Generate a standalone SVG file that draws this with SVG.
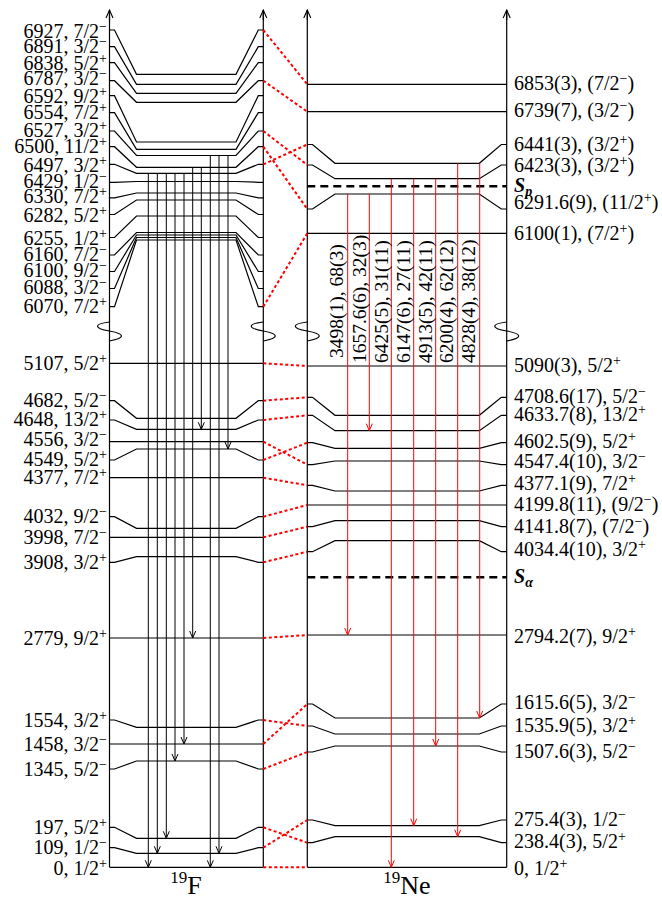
<svg xmlns="http://www.w3.org/2000/svg" width="662" height="900" viewBox="0 0 662 900">
<defs>
<marker id="ah" markerUnits="userSpaceOnUse" orient="auto" refX="0" refY="0" markerWidth="10" markerHeight="10" overflow="visible"><path d="M-7,-3 L0,0 L-7,3" fill="none" stroke="#000" stroke-width="1"/></marker>
<marker id="ahr" markerUnits="userSpaceOnUse" orient="auto" refX="0" refY="0" markerWidth="10" markerHeight="10" overflow="visible"><path d="M-7,-3 L0,0 L-7,3" fill="none" stroke="#f00" stroke-width="1"/></marker>
<marker id="aa" markerUnits="userSpaceOnUse" orient="auto" refX="0" refY="0" markerWidth="10" markerHeight="10" overflow="visible"><path d="M-8,-3.5 L0,0 L-8,3.5" fill="none" stroke="#000" stroke-width="1.1"/></marker>
<style>
.lv{stroke:#000;stroke-width:1.2;fill:none}
.ax{stroke:#000;stroke-width:1.2;fill:none}
.tr{stroke:#000;stroke-width:1;marker-end:url(#ah)}
.rt{stroke:#f00;stroke-width:1;marker-end:url(#ahr)}
.cn{stroke:#f00;stroke-width:2;stroke-dasharray:3 2.5;fill:none}
.sep{stroke:#000;stroke-width:2.5;stroke-dasharray:8 5}
text{font-family:"Liberation Serif","Times New Roman",serif;font-size:20px;fill:#000}
.l{text-anchor:end}
.s{font-size:14px}
.vl{font-size:19.5px}
.big{font-size:26px}
.bs{font-size:17px}
.sym{font-weight:bold;font-style:italic}
</style>
</defs>

<g id="axes">
<path class="ax" d="M109.5,867.3 V322 M109.5,341 V10" />
<path class="ax" d="M263.3,867.3 V322 M263.3,341 V10" />
<path class="ax" d="M307.3,867.3 V322 M307.3,341 V10" />
<path class="ax" d="M506.7,867.3 V322 M506.7,341 V10" />
<line class="ax" x1="109.5" y1="20" x2="109.5" y2="10" marker-end="url(#aa)"/>
<line class="ax" x1="263.3" y1="20" x2="263.3" y2="10" marker-end="url(#aa)"/>
<line class="ax" x1="307.3" y1="20" x2="307.3" y2="10" marker-end="url(#aa)"/>
<line class="ax" x1="506.7" y1="20" x2="506.7" y2="10" marker-end="url(#aa)"/>
<path class="ax" d="M109.5,322 C93.5,324 93.5,328 109.5,331 C125.5,334 125.5,338 109.5,341"/>
<path class="ax" d="M263.3,322 C247.3,324 247.3,328 263.3,331 C279.3,334 279.3,338 263.3,341"/>
<path class="ax" d="M307.3,322 C291.3,324 291.3,328 307.3,331 C323.3,334 323.3,338 307.3,341"/>
<path class="ax" d="M506.7,322 C490.7,324 490.7,328 506.7,331 C522.7,334 522.7,338 506.7,341"/>
</g>

<g id="F19">
<g id="f6927"><path class="lv" d="M109.5,30 H114.5 L136.5,74.3 H236 L258.3,30 H263.3"/><text class="l" x="107" y="37.5">6927, 7/2<tspan class="s" dy="-7">−</tspan></text></g>
<g id="f6891"><path class="lv" d="M109.5,46.7 H114.5 L136.5,84.3 H236 L258.3,46.7 H263.3"/><text class="l" x="107" y="53.3">6891, 3/2<tspan class="s" dy="-7">−</tspan></text></g>
<g id="f6838"><path class="lv" d="M109.5,62.7 H114.5 L136.5,93.3 H236 L258.3,62.7 H263.3"/><text class="l" x="107" y="70">6838, 5/2<tspan class="s" dy="-7">+</tspan></text></g>
<g id="f6787"><path class="lv" d="M109.5,80.7 H114.5 L136.5,102.3 H236 L258.3,80.7 H263.3"/><text class="l" x="107" y="85">6787, 3/2<tspan class="s" dy="-7">−</tspan></text></g>
<g id="f6592"><path class="lv" d="M109.5,95.7 H114.5 L136.5,142 H236 L258.3,95.7 H263.3"/><text class="l" x="107" y="103.3">6592, 9/2<tspan class="s" dy="-7">+</tspan></text></g>
<g id="f6554"><path class="lv" d="M109.5,112.7 H114.5 L136.5,149.3 H236 L258.3,112.7 H263.3"/><text class="l" x="107" y="119.3">6554, 7/2<tspan class="s" dy="-7">+</tspan></text></g>
<g id="f6527"><path class="lv" d="M109.5,131 H114.5 L136.5,155.5 H236 L258.3,131 H263.3"/><text class="l" x="107" y="137.3">6527, 3/2<tspan class="s" dy="-7">+</tspan></text></g>
<g id="f6500"><path class="lv" d="M109.5,146.7 H114.5 L136.5,167.3 H236 L258.3,146.7 H263.3"/><text class="l" x="107" y="153.3">6500, 11/2<tspan class="s" dy="-7">+</tspan></text></g>
<g id="f6497"><path class="lv" d="M109.5,164.3 H114.5 L136.5,173.3 H236 L258.3,164.3 H263.3"/><text class="l" x="107" y="171.7">6497, 3/2<tspan class="s" dy="-7">+</tspan></text></g>
<g id="f6429"><path class="lv" d="M109.5,182.3 H114.5 L136.5,181.5 H236 L258.3,182.3 H263.3"/><text class="l" x="107" y="188.3">6429, 1/2<tspan class="s" dy="-7">−</tspan></text></g>
<g id="f6330"><path class="lv" d="M109.5,197.8 H114.5 L136.5,193 H236 L258.3,197.8 H263.3"/><text class="l" x="107" y="203.3">6330, 7/2<tspan class="s" dy="-7">+</tspan></text></g>
<g id="f6282"><path class="lv" d="M109.5,214.5 H114.5 L136.5,200 H236 L258.3,214.5 H263.3"/><text class="l" x="107" y="221.7">6282, 5/2<tspan class="s" dy="-7">+</tspan></text></g>
<g id="f6255"><path class="lv" d="M109.5,237.5 H114.5 L136.5,216 H236 L258.3,237.5 H263.3"/><text class="l" x="107" y="245">6255, 1/2<tspan class="s" dy="-7">+</tspan></text></g>
<g id="f6160"><path class="lv" d="M109.5,255 H114.5 L136.5,232.5 H236 L258.3,255 H263.3"/><text class="l" x="107" y="260.7">6160, 7/2<tspan class="s" dy="-7">−</tspan></text></g>
<g id="f6100"><path class="lv" d="M109.5,271.5 H114.5 L136.5,235 H236 L258.3,271.5 H263.3"/><text class="l" x="107" y="276.7">6100, 9/2<tspan class="s" dy="-7">−</tspan></text></g>
<g id="f6088"><path class="lv" d="M109.5,288.5 H114.5 L136.5,237.5 H236 L258.3,288.5 H263.3"/><text class="l" x="107" y="294">6088, 3/2<tspan class="s" dy="-7">−</tspan></text></g>
<g id="f6070"><path class="lv" d="M109.5,306.7 H114.5 L136.5,240 H236 L258.3,306.7 H263.3"/><text class="l" x="107" y="312.7">6070, 7/2<tspan class="s" dy="-7">+</tspan></text></g>
<g id="f5107"><path class="lv" d="M109.5,363.3 H263.3"/><text class="l" x="107" y="370">5107, 5/2<tspan class="s" dy="-7">+</tspan></text></g>
<g id="f4682"><path class="lv" d="M109.5,400.7 H114.5 L136.5,418.3 H236 L258.3,400.7 H263.3"/><text class="l" x="107" y="406.7">4682, 5/2<tspan class="s" dy="-7">−</tspan></text></g>
<g id="f4648"><path class="lv" d="M109.5,420 H114.5 L136.5,429.3 H236 L258.3,420 H263.3"/><text class="l" x="107" y="426">4648, 13/2<tspan class="s" dy="-7">+</tspan></text></g>
<g id="f4556"><path class="lv" d="M109.5,441.7 H263.3"/><text class="l" x="107" y="446">4556, 3/2<tspan class="s" dy="-7">−</tspan></text></g>
<g id="f4549"><path class="lv" d="M109.5,460 H114.5 L136.5,449 H236 L258.3,460 H263.3"/><text class="l" x="107" y="466">4549, 5/2<tspan class="s" dy="-7">+</tspan></text></g>
<g id="f4377"><path class="lv" d="M109.5,477.7 H263.3"/><text class="l" x="107" y="484">4377, 7/2<tspan class="s" dy="-7">+</tspan></text></g>
<g id="f4032"><path class="lv" d="M109.5,516.7 H114.5 L136.5,528.3 H236 L258.3,516.7 H263.3"/><text class="l" x="107" y="522.7">4032, 9/2<tspan class="s" dy="-7">−</tspan></text></g>
<g id="f3998"><path class="lv" d="M109.5,537.3 H263.3"/><text class="l" x="107" y="544">3998, 7/2<tspan class="s" dy="-7">−</tspan></text></g>
<g id="f3908"><path class="lv" d="M109.5,562.3 H114.5 L136.5,556.7 H236 L258.3,562.3 H263.3"/><text class="l" x="107" y="569.3">3908, 3/2<tspan class="s" dy="-7">+</tspan></text></g>
<g id="f2779"><path class="lv" d="M109.5,638 H263.3"/><text class="l" x="107" y="645">2779, 9/2<tspan class="s" dy="-7">+</tspan></text></g>
<g id="f1554"><path class="lv" d="M109.5,720 H114.5 L136.5,727.3 H236 L258.3,720 H263.3"/><text class="l" x="107" y="727.3">1554, 3/2<tspan class="s" dy="-7">+</tspan></text></g>
<g id="f1458"><path class="lv" d="M109.5,744 H263.3"/><text class="l" x="107" y="750.7">1458, 3/2<tspan class="s" dy="-7">−</tspan></text></g>
<g id="f1345"><path class="lv" d="M109.5,769 H114.5 L136.5,761 H236 L258.3,769 H263.3"/><text class="l" x="107" y="775.7">1345, 5/2<tspan class="s" dy="-7">−</tspan></text></g>
<g id="f197"><path class="lv" d="M109.5,827.3 H114.5 L136.5,838.3 H236 L258.3,827.3 H263.3"/><text class="l" x="107" y="834">197, 5/2<tspan class="s" dy="-7">+</tspan></text></g>
<g id="f109"><path class="lv" d="M109.5,847.7 H114.5 L136.5,853.3 H236 L258.3,847.7 H263.3"/><text class="l" x="107" y="854">109, 1/2<tspan class="s" dy="-7">−</tspan></text></g>
<g id="f0"><path class="lv" d="M109.5,867.3 H263.3"/><text class="l" x="107" y="875">0, 1/2<tspan class="s" dy="-7">+</tspan></text></g>
<text x="186" y="894" class="big" text-anchor="middle"><tspan class="bs" dy="-11">19</tspan><tspan dy="11">F</tspan></text>
</g>

<g id="Ne19">
<g id="n6853"><path class="lv" d="M307.3,84.3 H506.7"/><text x="514" y="90">6853(3), (7/2<tspan class="s" dy="-7">−</tspan><tspan dy="7">)</tspan></text></g>
<g id="n6739"><path class="lv" d="M307.3,111.7 H506.7"/><text x="514" y="117">6739(7), (3/2<tspan class="s" dy="-7">−</tspan><tspan dy="7">)</tspan></text></g>
<g id="n6441"><path class="lv" d="M307.3,144.5 H312.5 L335,163.3 H479.3 L501.3,144.5 H506.7"/><text x="514" y="150.7">6441(3), (3/2<tspan class="s" dy="-7">+</tspan><tspan dy="7">)</tspan></text></g>
<g id="n6423"><path class="lv" d="M307.3,165 H312.5 L335,178.7 H479.3 L501.3,165 H506.7"/><text x="514" y="171.7">6423(3), (3/2<tspan class="s" dy="-7">+</tspan><tspan dy="7">)</tspan></text></g>
<g id="nSp"><line class="sep" x1="307.3" y1="186.3" x2="506.7" y2="186.3"/><text x="514" y="191.5" class="sym">S<tspan class="s" dy="4">p</tspan></text></g>
<g id="n6291"><path class="lv" d="M307.3,209 H312.5 L335,194 H479.3 L501.3,209 H506.7"/><text x="514" y="209">6291.6(9), (11/2<tspan class="s" dy="-7">+</tspan><tspan dy="7">)</tspan></text></g>
<g id="n6100"><path class="lv" d="M307.3,233.3 H506.7"/><text x="514" y="240">6100(1), (7/2<tspan class="s" dy="-7">+</tspan><tspan dy="7">)</tspan></text></g>
<g id="n5090"><path class="lv" d="M307.3,366 H506.7"/><text x="514" y="371.7">5090(3), 5/2<tspan class="s" dy="-7">+</tspan></text></g>
<g id="n4708"><path class="lv" d="M307.3,397.3 H312.5 L335,415.3 H479.3 L501.3,397.3 H506.7"/><text x="514" y="403.3">4708.6(17), 5/2<tspan class="s" dy="-7">−</tspan></text></g>
<g id="n4633"><path class="lv" d="M307.3,415.3 H312.5 L335,430.7 H479.3 L501.3,415.3 H506.7"/><text x="514" y="421">4633.7(8), 13/2<tspan class="s" dy="-7">+</tspan></text></g>
<g id="n4602"><path class="lv" d="M307.3,442.7 H312.5 L335,448.3 H479.3 L501.3,442.7 H506.7"/><text x="514" y="448.3">4602.5(9), 5/2<tspan class="s" dy="-7">+</tspan></text></g>
<g id="n4547"><path class="lv" d="M307.3,464.7 H312.5 L335,461 H479.3 L501.3,464.7 H506.7"/><text x="514" y="468.3">4547.4(10), 3/2<tspan class="s" dy="-7">−</tspan></text></g>
<g id="n4377"><path class="lv" d="M307.3,485.3 H312.5 L335,491 H479.3 L501.3,485.3 H506.7"/><text x="514" y="490">4377.1(9), 7/2<tspan class="s" dy="-7">+</tspan></text></g>
<g id="n4199"><path class="lv" d="M307.3,505 H506.7"/><text x="514" y="510.7">4199.8(11), (9/2<tspan class="s" dy="-7">−</tspan><tspan dy="7">)</tspan></text></g>
<g id="n4141"><path class="lv" d="M307.3,526.7 H312.5 L335,520.7 H479.3 L501.3,526.7 H506.7"/><text x="514" y="532.7">4141.8(7), (7/2<tspan class="s" dy="-7">−</tspan><tspan dy="7">)</tspan></text></g>
<g id="n4034"><path class="lv" d="M307.3,551.7 H312.5 L335,540.7 H479.3 L501.3,551.7 H506.7"/><text x="514" y="556">4034.4(10), 3/2<tspan class="s" dy="-7">+</tspan></text></g>
<g id="nSa"><line class="sep" x1="307.3" y1="577.3" x2="506.7" y2="577.3"/><text x="514" y="583.3" class="sym">S<tspan class="s" dy="4">α</tspan></text></g>
<g id="n2794"><path class="lv" d="M307.3,635 H506.7"/><text x="514" y="642.7">2794.2(7), 9/2<tspan class="s" dy="-7">+</tspan></text></g>
<g id="n1615"><path class="lv" d="M307.3,704 H312.5 L335,718 H479.3 L501.3,704 H506.7"/><text x="514" y="709.3">1615.6(5), 3/2<tspan class="s" dy="-7">−</tspan></text></g>
<g id="n1535"><path class="lv" d="M307.3,726 H312.5 L335,734 H479.3 L501.3,726 H506.7"/><text x="514" y="731.7">1535.9(5), 3/2<tspan class="s" dy="-7">+</tspan></text></g>
<g id="n1507"><path class="lv" d="M307.3,752 H312.5 L335,746 H479.3 L501.3,752 H506.7"/><text x="514" y="758.3">1507.6(3), 5/2<tspan class="s" dy="-7">−</tspan></text></g>
<g id="n275"><path class="lv" d="M307.3,820 H312.5 L335,825.7 H479.3 L501.3,820 H506.7"/><text x="514" y="825.7">275.4(3), 1/2<tspan class="s" dy="-7">−</tspan></text></g>
<g id="n238"><path class="lv" d="M307.3,842.7 H312.5 L335,836.7 H479.3 L501.3,842.7 H506.7"/><text x="514" y="848.3">238.4(3), 5/2<tspan class="s" dy="-7">+</tspan></text></g>
<g id="n0"><path class="lv" d="M307.3,867.3 H506.7"/><text x="514" y="875">0, 1/2<tspan class="s" dy="-7">+</tspan></text></g>
<text x="407" y="894" class="big" text-anchor="middle"><tspan class="bs" dy="-11">19</tspan><tspan dy="11">Ne</tspan></text>
</g>

<g id="connectors">
<g id="F-transitions">
<line class="tr" x1="148.3" y1="173.3" x2="148.3" y2="867.3"/>
<line class="tr" x1="157.3" y1="173.3" x2="157.3" y2="853.3"/>
<line class="tr" x1="166.3" y1="173.3" x2="166.3" y2="838.3"/>
<line class="tr" x1="175" y1="173.3" x2="175" y2="761"/>
<line class="tr" x1="184" y1="173.3" x2="184" y2="744"/>
<line class="tr" x1="192.7" y1="167.3" x2="192.7" y2="638"/>
<line class="tr" x1="201.3" y1="167.3" x2="201.3" y2="429.3"/>
<line class="tr" x1="210.3" y1="155.5" x2="210.3" y2="867.3"/>
<line class="tr" x1="219" y1="155.5" x2="219" y2="853.3"/>
<line class="tr" x1="228" y1="155.5" x2="228" y2="449"/>
</g>
<g id="Ne-transitions">
<line class="rt" x1="347.7" y1="194" x2="347.7" y2="635"/>
<line class="rt" x1="369.3" y1="194" x2="369.3" y2="430.7"/>
<line class="rt" x1="391.3" y1="178.7" x2="391.3" y2="867.3"/>
<line class="rt" x1="413.7" y1="178.7" x2="413.7" y2="825.7"/>
<line class="rt" x1="435.7" y1="178.7" x2="435.7" y2="746"/>
<line class="rt" x1="457.7" y1="163.3" x2="457.7" y2="836.7"/>
<line class="rt" x1="479.7" y1="163.3" x2="479.7" y2="718"/>
<text class="vl" transform="translate(343.3,358) rotate(-90)">3498(1), 68(3)</text>
<text class="vl" transform="translate(366,363) rotate(-90)">1657.6(6), 32(3)</text>
<text class="vl" transform="translate(387.7,363) rotate(-90)">6425(5), 31(11)</text>
<text class="vl" transform="translate(410,363) rotate(-90)">6147(6), 27(11)</text>
<text class="vl" transform="translate(431.7,363) rotate(-90)">4913(5), 42(11)</text>
<text class="vl" transform="translate(453.3,363) rotate(-90)">6200(4), 62(12)</text>
<text class="vl" transform="translate(475,363) rotate(-90)">4828(4), 38(12)</text>
</g>
<g id="mirror-links">
<line class="cn" x1="263.3" y1="30" x2="307.3" y2="84.3"/>
<line class="cn" x1="263.3" y1="80.7" x2="307.3" y2="111.7"/>
<line class="cn" x1="263.3" y1="131" x2="307.3" y2="165"/>
<line class="cn" x1="263.3" y1="164.3" x2="307.3" y2="144.5"/>
<line class="cn" x1="263.3" y1="146.7" x2="307.3" y2="209"/>
<line class="cn" x1="263.3" y1="306.7" x2="307.3" y2="233.3"/>
<line class="cn" x1="263.3" y1="363.3" x2="307.3" y2="366"/>
<line class="cn" x1="263.3" y1="400.7" x2="307.3" y2="397.3"/>
<line class="cn" x1="263.3" y1="420" x2="307.3" y2="415.3"/>
<line class="cn" x1="263.3" y1="441.7" x2="307.3" y2="464.7"/>
<line class="cn" x1="263.3" y1="460" x2="307.3" y2="442.7"/>
<line class="cn" x1="263.3" y1="477.7" x2="307.3" y2="485.3"/>
<line class="cn" x1="263.3" y1="516.7" x2="307.3" y2="505"/>
<line class="cn" x1="263.3" y1="537.3" x2="307.3" y2="526.7"/>
<line class="cn" x1="263.3" y1="562.3" x2="307.3" y2="551.7"/>
<line class="cn" x1="263.3" y1="638" x2="307.3" y2="635"/>
<line class="cn" x1="263.3" y1="720" x2="307.3" y2="726"/>
<line class="cn" x1="263.3" y1="744" x2="307.3" y2="704"/>
<line class="cn" x1="263.3" y1="769" x2="307.3" y2="752"/>
<line class="cn" x1="263.3" y1="827.3" x2="307.3" y2="842.7"/>
<line class="cn" x1="263.3" y1="847.7" x2="307.3" y2="820"/>
<line class="cn" x1="263.3" y1="867.3" x2="307.3" y2="867.3"/>
</g>
</g>
</svg>
